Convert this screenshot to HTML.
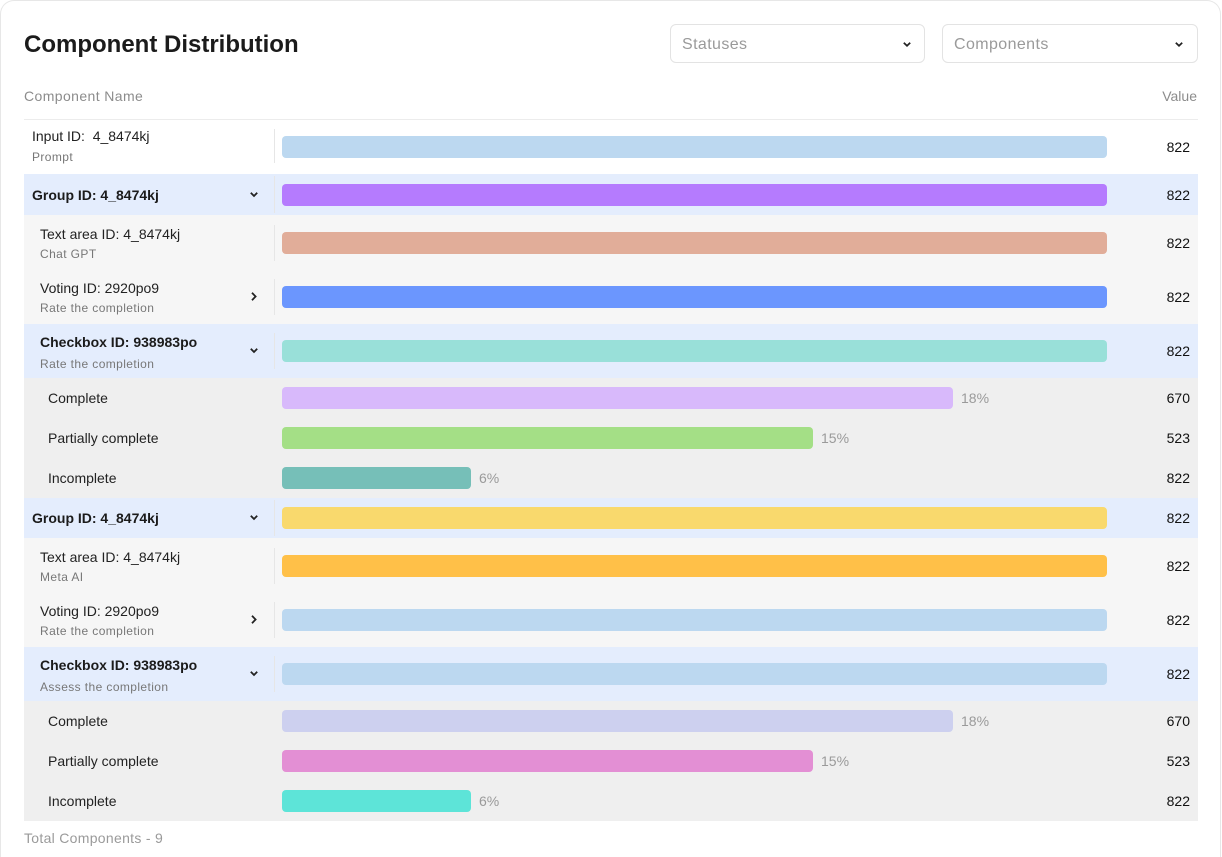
<!DOCTYPE html>
<html>
<head>
<meta charset="utf-8">
<style>
  html,body{margin:0;padding:0;background:#fff;width:1222px;height:857px;overflow:hidden;}
  body{position:relative;font-family:"Liberation Sans",Arial,sans-serif;}
  .card{position:absolute;left:0;top:0;width:1221px;height:857px;border:1px solid #e7e7e7;border-bottom:none;border-radius:14px 14px 0 0;background:#fff;box-sizing:border-box;}
  .abs{position:absolute;white-space:nowrap;}
  .title{left:24px;top:31px;font-size:24px;font-weight:bold;color:#1b1b1b;line-height:28px;}
  .dd{position:absolute;top:24px;height:39px;border:1px solid #e3e3e3;border-radius:6px;box-sizing:border-box;}
  .ddt{position:absolute;left:11px;top:11px;font-size:16px;line-height:18px;color:#9a9a9a;letter-spacing:0.4px;}
  .hdr{font-size:14px;color:#8c8c8c;line-height:18px;letter-spacing:0.4px;}
  .row{position:absolute;left:24px;width:1174px;}
  .bar{position:absolute;left:282px;height:22px;border-radius:4px;}
  .sep{position:absolute;left:274px;width:1px;background:#e6e6e6;}
  .val{position:absolute;right:32px;font-size:14px;line-height:22px;color:#111;text-align:right;}
  .pct{position:absolute;font-size:14px;line-height:22px;color:#9a9a9a;}
  .lbl{position:absolute;font-size:14px;color:#222;line-height:18px;}
  .lbl1{position:absolute;font-size:14px;color:#222;line-height:22px;}
  .b{font-weight:bold;color:#1b1b1b;}
  .sub{position:absolute;font-size:12px;color:#777;line-height:14px;letter-spacing:0.4px;}
  svg{position:absolute;overflow:visible;}
</style>
</head>
<body>
<div class="card"></div>

<div class="abs title">Component Distribution</div>

<div class="dd" style="left:670px;width:255px;">
  <div class="ddt">Statuses</div>
  <svg style="left:232px;top:17px;" width="8" height="5"><polyline points="0.8,0.8 4,3.8 7.2,0.8" fill="none" stroke="#222" stroke-width="1.7"/></svg>
</div>
<div class="dd" style="left:942px;width:256px;">
  <div class="ddt">Components</div>
  <svg style="left:232px;top:17px;" width="8" height="5"><polyline points="0.8,0.8 4,3.8 7.2,0.8" fill="none" stroke="#222" stroke-width="1.7"/></svg>
</div>

<div class="abs hdr" style="left:24px;top:87px;">Component Name</div>
<div class="abs hdr" style="right:25px;top:87px;letter-spacing:0;">Value</div>
<div class="abs" style="left:24px;top:119px;width:1174px;height:1px;background:#ececec;"></div>

<!-- Row backgrounds -->
<div class="row" style="top:120px;height:54px;background:#fff;"></div>
<div class="row" style="top:174px;height:41px;background:#e4edfd;"></div>
<div class="row" style="top:215px;height:109px;background:#f6f6f6;"></div>
<div class="row" style="top:324px;height:54px;background:#e4edfd;"></div>
<div class="row" style="top:378px;height:120px;background:#efefef;"></div>
<div class="row" style="top:498px;height:40px;background:#e4edfd;"></div>
<div class="row" style="top:538px;height:109px;background:#f6f6f6;"></div>
<div class="row" style="top:647px;height:54px;background:#e4edfd;"></div>
<div class="row" style="top:701px;height:120px;background:#efefef;"></div>

<!-- separators -->
<div class="sep" style="top:129px;height:34px;"></div>
<div class="sep" style="top:176px;height:37px;"></div>
<div class="sep" style="top:225px;height:36px;"></div>
<div class="sep" style="top:279px;height:36px;"></div>
<div class="sep" style="top:333px;height:36px;"></div>
<div class="sep" style="top:500px;height:36px;"></div>
<div class="sep" style="top:548px;height:36px;"></div>
<div class="sep" style="top:602px;height:36px;"></div>
<div class="sep" style="top:656px;height:36px;"></div>

<!-- Bars -->
<div class="bar" style="top:136px;width:825px;background:#bcd8f0;"></div>
<div class="bar" style="top:184px;width:825px;background:#b57bfe;"></div>
<div class="bar" style="top:232px;width:825px;background:#e1ad99;"></div>
<div class="bar" style="top:286px;width:825px;background:#6b96fe;"></div>
<div class="bar" style="top:340px;width:825px;background:#99e0d9;"></div>
<div class="bar" style="top:387px;width:671px;background:#d8b9fb;"></div>
<div class="bar" style="top:427px;width:531px;background:#a4df86;"></div>
<div class="bar" style="top:467px;width:189px;background:#76bfb8;"></div>
<div class="bar" style="top:507px;width:825px;background:#f9d96d;"></div>
<div class="bar" style="top:555px;width:825px;background:#ffc048;"></div>
<div class="bar" style="top:609px;width:825px;background:#bcd8f0;"></div>
<div class="bar" style="top:663px;width:825px;background:#bcd8f0;"></div>
<div class="bar" style="top:710px;width:671px;background:#cdd0ef;"></div>
<div class="bar" style="top:750px;width:531px;background:#e38fd4;"></div>
<div class="bar" style="top:790px;width:189px;background:#5de4d8;"></div>

<!-- Percents -->
<div class="pct" style="left:961px;top:387px;">18%</div>
<div class="pct" style="left:821px;top:427px;">15%</div>
<div class="pct" style="left:479px;top:467px;">6%</div>
<div class="pct" style="left:961px;top:710px;">18%</div>
<div class="pct" style="left:821px;top:750px;">15%</div>
<div class="pct" style="left:479px;top:790px;">6%</div>

<!-- Values -->
<div class="val" style="top:136px;">822</div>
<div class="val" style="top:184px;">822</div>
<div class="val" style="top:232px;">822</div>
<div class="val" style="top:286px;">822</div>
<div class="val" style="top:340px;">822</div>
<div class="val" style="top:387px;">670</div>
<div class="val" style="top:427px;">523</div>
<div class="val" style="top:467px;">822</div>
<div class="val" style="top:507px;">822</div>
<div class="val" style="top:555px;">822</div>
<div class="val" style="top:609px;">822</div>
<div class="val" style="top:663px;">822</div>
<div class="val" style="top:710px;">670</div>
<div class="val" style="top:750px;">523</div>
<div class="val" style="top:790px;">822</div>

<!-- Labels -->
<div class="lbl" style="left:32px;top:127px;">Input ID:&nbsp; 4_8474kj</div>
<div class="sub" style="left:32px;top:150px;">Prompt</div>

<div class="lbl1 b" style="left:32px;top:184px;">Group ID: 4_8474kj</div>

<div class="lbl" style="left:40px;top:225px;">Text area ID: 4_8474kj</div>
<div class="sub" style="left:40px;top:247px;">Chat GPT</div>

<div class="lbl" style="left:40px;top:279px;">Voting ID: 2920po9</div>
<div class="sub" style="left:40px;top:301px;">Rate the completion</div>

<div class="lbl b" style="left:40px;top:333px;">Checkbox ID: 938983po</div>
<div class="sub" style="left:40px;top:357px;">Rate the completion</div>

<div class="lbl1" style="left:48px;top:387px;">Complete</div>
<div class="lbl1" style="left:48px;top:427px;">Partially complete</div>
<div class="lbl1" style="left:48px;top:467px;">Incomplete</div>

<div class="lbl1 b" style="left:32px;top:507px;">Group ID: 4_8474kj</div>

<div class="lbl" style="left:40px;top:548px;">Text area ID: 4_8474kj</div>
<div class="sub" style="left:40px;top:570px;">Meta AI</div>

<div class="lbl" style="left:40px;top:602px;">Voting ID: 2920po9</div>
<div class="sub" style="left:40px;top:624px;">Rate the completion</div>

<div class="lbl b" style="left:40px;top:656px;">Checkbox ID: 938983po</div>
<div class="sub" style="left:40px;top:680px;">Assess the completion</div>

<div class="lbl1" style="left:48px;top:710px;">Complete</div>
<div class="lbl1" style="left:48px;top:750px;">Partially complete</div>
<div class="lbl1" style="left:48px;top:790px;">Incomplete</div>

<!-- Chevrons -->
<svg style="left:250px;top:192px;" width="8" height="5"><polyline points="0.8,0.8 4,4 7.2,0.8" fill="none" stroke="#222" stroke-width="1.8"/></svg>
<svg style="left:251px;top:292px;" width="6" height="9"><polyline points="1,0.8 4.6,4.5 1,8.2" fill="none" stroke="#222" stroke-width="1.8"/></svg>
<svg style="left:250px;top:348px;" width="8" height="5"><polyline points="0.8,0.8 4,4 7.2,0.8" fill="none" stroke="#222" stroke-width="1.8"/></svg>
<svg style="left:250px;top:515px;" width="8" height="5"><polyline points="0.8,0.8 4,4 7.2,0.8" fill="none" stroke="#222" stroke-width="1.8"/></svg>
<svg style="left:251px;top:615px;" width="6" height="9"><polyline points="1,0.8 4.6,4.5 1,8.2" fill="none" stroke="#222" stroke-width="1.8"/></svg>
<svg style="left:250px;top:671px;" width="8" height="5"><polyline points="0.8,0.8 4,4 7.2,0.8" fill="none" stroke="#222" stroke-width="1.8"/></svg>

<!-- Footer -->
<div class="abs" style="left:24px;top:829px;font-size:14px;line-height:18px;color:#9a9a9a;letter-spacing:0.3px;">Total Components - 9</div>
</body>
</html>
